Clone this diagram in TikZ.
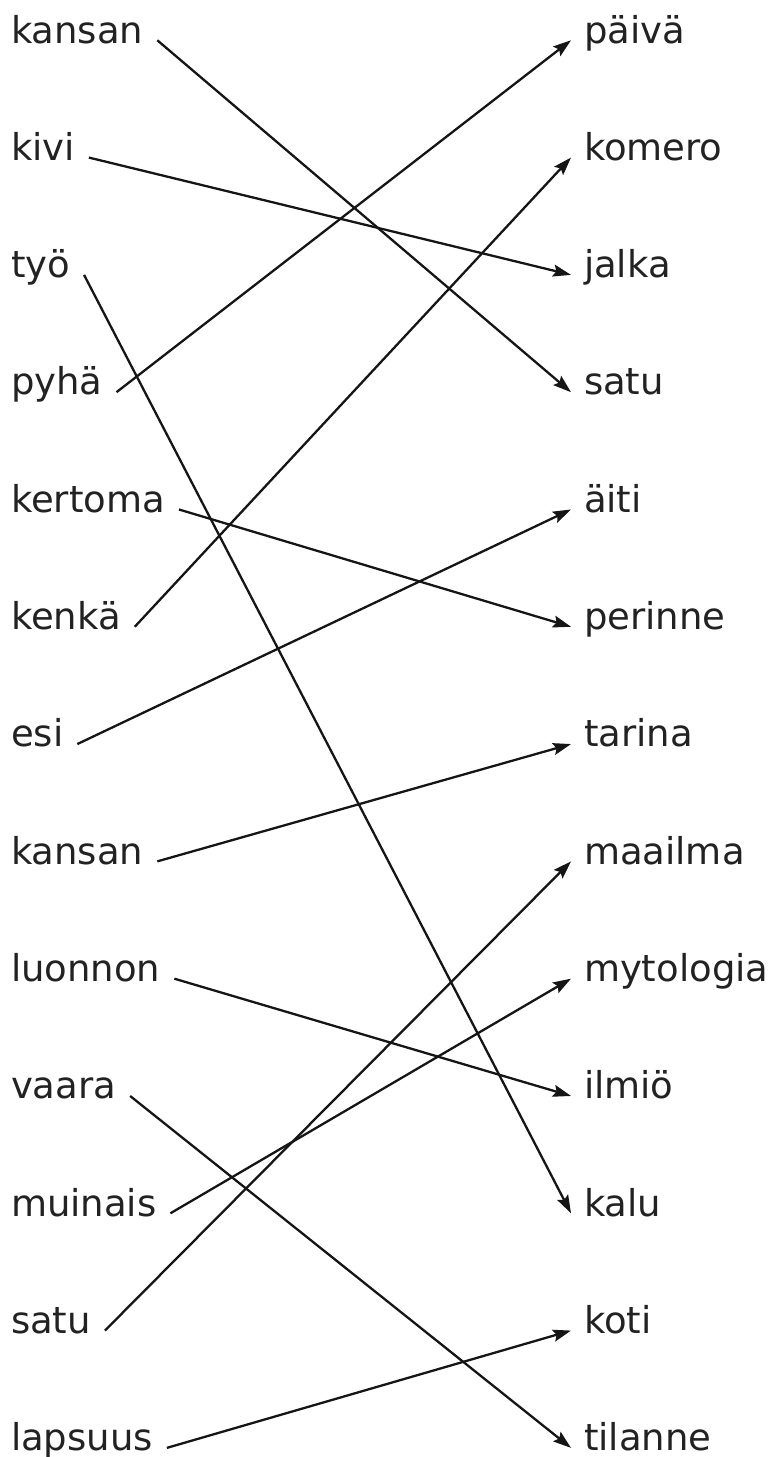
\documentclass[tikz,border=0pt]{standalone}
\usepackage{fontspec}
\setmainfont{DejaVu Sans}
\usetikzlibrary{arrows.meta}
\definecolor{txt}{HTML}{222222}
\definecolor{ln}{HTML}{151515}
\begin{document}
\begin{tikzpicture}[x=1pt,y=-1pt,
  lword/.style={anchor=base west,inner sep=0pt,outer xsep=14pt,text=txt,font=\fontsize{37pt}{40pt}\selectfont},
  rword/.style={anchor=base west,inner sep=0pt,outer xsep=13pt,text=txt,font=\fontsize{37pt}{40pt}\selectfont},
  link/.style={draw=ln,line width=2.3pt,-{Stealth[length=18pt,width=12pt,inset=3pt]}}]
\useasboundingbox (0,0) rectangle (773,1457);
\def\rs{117.3}
\foreach \i/\w in {0/kansan,1/kivi,2/työ,3/pyhä,4/kertoma,5/kenkä,6/esi,7/kansan,8/luonnon,9/vaara,10/muinais,11/satu,12/lapsuus}
  \node[lword] (L\i) at (-3,43+\i*\rs) {\w};
\foreach \i/\w in {0/päivä,1/komero,2/jalka,3/satu,4/äiti,5/perinne,6/tarina,7/maailma,8/mytologia,9/ilmiö,10/kalu,11/koti,12/tilanne}
  \node[rword] (R\i) at (571,43+\i*\rs) {\w};
\foreach \a/\b in {0/3,1/2,2/10,3/0,4/5,5/1,6/4,7/6,8/9,9/12,10/8,11/7,12/11}
  \draw[link] (L\a.mid east) -- (R\b.mid west);
\end{tikzpicture}
\end{document}
